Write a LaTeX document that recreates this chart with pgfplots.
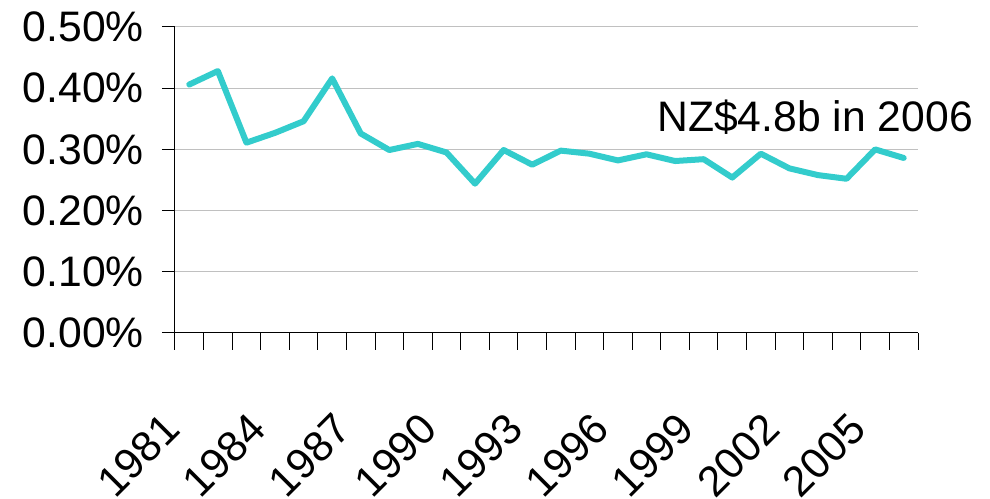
\documentclass[border=0pt]{standalone}
\usepackage{fontspec}
\setmainfont{Liberation Sans}
\usepackage{pgfplots}
\pgfplotsset{compat=1.18}
\definecolor{lineteal}{RGB}{51,204,204}
\definecolor{gridgray}{RGB}{192,192,192}
\newcommand{\chartfont}{\fontsize{32}{38}\selectfont}

\begin{document}
\begin{tikzpicture}
% whole picture is 990x499 px at 0.75pt per px; plot box 175..918 x 27..333
\useasboundingbox (-131.25pt,-124.5pt) rectangle (611.25pt,249.75pt);
\begin{axis}[
  at={(0pt,0pt)}, anchor=south west,
  scale only axis,
  width=557.25pt, height=229.5pt,
  xmin=-0.5, xmax=25.5,
  ymin=0, ymax=0.5,
  axis x line=bottom, axis y line=left,
  axis line style={-, black, line width=0.75pt},
  tick align=outside,
  xtick={0,3,...,24},
  xticklabels={1981,1984,1987,1990,1993,1996,1999,2002,2005},
  minor xtick={-0.5,0.5,...,25.5},
  xtick style={/pgfplots/major tick length=0pt, /pgfplots/minor tick length=12.75pt, black, line width=0.75pt},
  ytick={0,0.1,...,0.5},
  yticklabels={0.00\%,0.10\%,0.20\%,0.30\%,0.40\%,0.50\%},
  ytick style={/pgfplots/major tick length=9.75pt, black, line width=0.75pt},
  ymajorgrids=true,
  grid style={gridgray, line width=0.75pt},
  ticklabel style={font=\chartfont},
  yticklabel style={anchor=east, inner sep=0pt, xshift=-19pt},
  xticklabel style={anchor=east, inner sep=0pt, xshift=-13pt, yshift=-62pt, rotate=45},
  /pgf/number format/assume math mode=true,
  clip=false,
]
\addplot[color=lineteal, line width=4.5pt, line join=round, line cap=round, mark=none] table {
x y
0 0.406
1 0.428
2 0.311
3 0.327
4 0.346
5 0.416
6 0.326
7 0.299
8 0.309
9 0.295
10 0.244
11 0.299
12 0.275
13 0.298
14 0.293
15 0.282
16 0.292
17 0.281
18 0.284
19 0.254
20 0.293
21 0.269
22 0.258
23 0.252
24 0.300
25 0.286
};
\node[font=\chartfont, anchor=base west, inner sep=0pt] at (axis cs:16.37,0.3287) {NZ\$4.8b in 2006};
\end{axis}
\end{tikzpicture}
\end{document}
